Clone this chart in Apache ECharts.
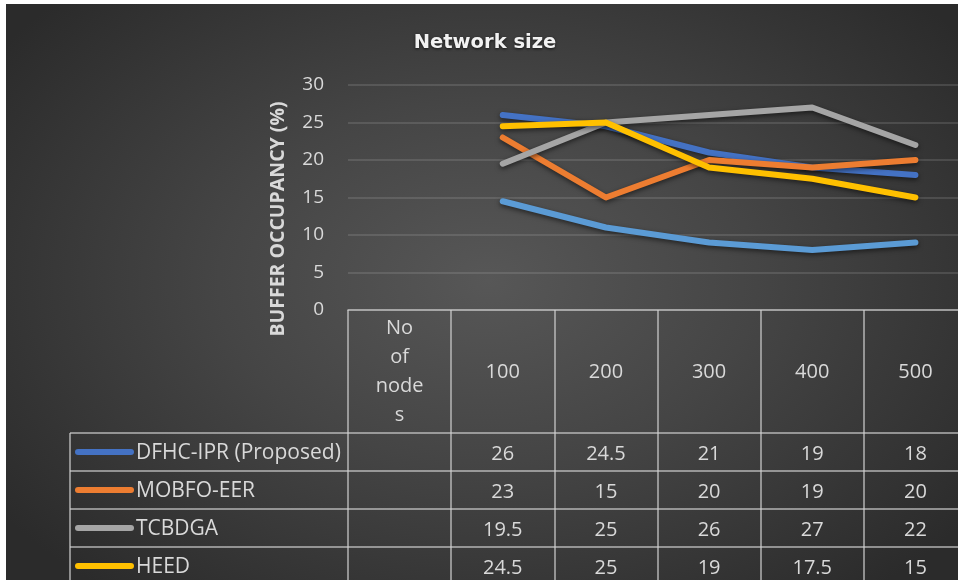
<!DOCTYPE html>
<html>
<head>
<meta charset="utf-8">
<script src="https://cdn.jsdelivr.net/npm/echarts@6/dist/echarts.min.js"></script>
<style>
  html, body { margin: 0; padding: 0; background: #ffffff; overflow: hidden; width: 958px; height: 580px; }
  #chart {
    position: absolute; left: 6px; top: 4px; width: 964px; height: 576px;
    background: radial-gradient(ellipse 62% 70% at 50% 48%, #575757 0%, #454545 45%, #2b2b2b 100%);
  }
</style>
</head>
<body>
<div id="chart"></div>
<script>
// Categories of the data table header (first column holds the caption only)
const categories = ['No\nof\nnode\ns', '100', '200', '300', '400', '500'];
const yTicks = [0, 5, 10, 15, 20, 25, 30];

// Buffer occupancy (%) per network size
const seriesNames = ['DFHC-IPR (Proposed)', 'MOBFO-EER', 'TCBDGA', 'HEED', 'Series 5'];
const dfhcIpr  = [null, 26, 24.5, 21, 19, 18];
const mobfoEer = [null, 23, 15, 20, 19, 20];
const tcbdga   = [null, 19.5, 25, 26, 27, 22];
const heed     = [null, 24.5, 25, 19, 17.5, 15];
const series5  = [null, 14.5, 11, 9, 8, 9];

const seriesData = [dfhcIpr, mobfoEer, tcbdga, heed, series5];
const colors = ['#4472C4', '#ED7D31', '#A5A5A5', '#FFC000', '#5B9BD5'];
const tableRows = 4; // rows of the data table visible in the frame

const LINE = 'rgba(210,210,210,0.8)';
const TEXT = '#d9d9d9';
const FONT = '"Open Sans", sans-serif';

const chart = echarts.init(document.getElementById('chart'), null, { renderer: 'canvas' });

chart.setOption({
  animation: false,
  title: {
    text: 'Network size',
    left: 474,
    textAlign: 'center',
    top: 24,
    textStyle: {
      color: '#f2f2f2', fontSize: 19.5, fontWeight: 'bold', fontFamily: 'DejaVu Sans',
      textShadowColor: 'rgba(0,0,0,0.7)', textShadowBlur: 3, textShadowOffsetY: 1
    }
  },
  grid: { left: 342, right: 3, top: 81, bottom: 270, containLabel: false },
  xAxis: {
    type: 'category',
    data: categories,
    boundaryGap: true,
    axisLine: { show: true, lineStyle: { color: LINE, width: 1.5 } },
    axisTick: { show: true, interval: 0, length: 275, lineStyle: { color: LINE, width: 1.5 } },
    axisLabel: {
      interval: 0, margin: 62, verticalAlign: 'middle',
      color: TEXT, fontSize: 20, fontFamily: FONT, lineHeight: 29
    },
    splitLine: { show: false }
  },
  yAxis: {
    type: 'value',
    min: yTicks[0], max: yTicks[yTicks.length - 1], interval: 5,
    axisLine: { show: false },
    axisTick: { show: false },
    axisLabel: { color: TEXT, fontSize: 19, fontFamily: FONT, margin: 24 },
    splitLine: { lineStyle: { color: 'rgba(200,200,200,0.22)', width: 1.5 } }
  },
  series: seriesData.map((d, i) => ({
    name: seriesNames[i],
    type: 'line',
    data: d,
    symbol: 'none',
    connectNulls: false,
    lineStyle: {
      color: colors[i], width: 6, cap: 'round', join: 'round',
      shadowColor: 'rgba(0,0,0,0.55)', shadowBlur: 5, shadowOffsetY: 2
    },
    itemStyle: { color: colors[i] }
  }))
});

// Data table beneath the plot, aligned to the category axis
function buildTable() {
  const axisY = chart.convertToPixel({ yAxisIndex: 0 }, 0);
  const headerBottom = axisY + 123;
  const rowH = 38;
  const leftX = 64;
  const rightX = 964;
  const els = [];

  // Y-axis title
  els.push({
    type: 'text', x: 272, y: 215, rotation: Math.PI / 2,
    style: {
      text: 'BUFFER OCCUPANCY (%)', fill: TEXT, fontSize: 19.5, fontWeight: 'bold',
      fontFamily: FONT, align: 'center', verticalAlign: 'middle'
    }
  });

  // Horizontal rules of the table body
  for (let r = 0; r <= tableRows; r++) {
    const y = headerBottom + r * rowH;
    els.push({ type: 'line', shape: { x1: leftX, y1: y, x2: rightX, y2: y }, style: { stroke: LINE, lineWidth: 1.5 } });
  }
  // Left border of the row labels
  els.push({ type: 'line', shape: { x1: leftX, y1: headerBottom, x2: leftX, y2: 600 }, style: { stroke: LINE, lineWidth: 1.5 } });

  for (let r = 0; r < tableRows; r++) {
    const cy = headerBottom + r * rowH + rowH / 2;
    // Legend key
    els.push({
      type: 'line', shape: { x1: 72, y1: cy, x2: 125, y2: cy },
      style: { stroke: colors[r], lineWidth: 6, lineCap: 'round' }
    });
    els.push({
      type: 'text', x: 130, y: cy + 1,
      style: { text: seriesNames[r], fill: TEXT, fontSize: 21, fontFamily: FONT, align: 'left', verticalAlign: 'middle' }
    });
    // Values
    seriesData[r].forEach((v, i) => {
      if (v == null) return;
      const cx = chart.convertToPixel({ xAxisIndex: 0 }, categories[i]);
      els.push({
        type: 'text', x: cx, y: cy + 2,
        style: { text: String(v), fill: TEXT, fontSize: 20, fontFamily: FONT, align: 'center', verticalAlign: 'middle' }
      });
    });
  }
  chart.setOption({ graphic: els });
}
buildTable();
</script>
</body>
</html>
